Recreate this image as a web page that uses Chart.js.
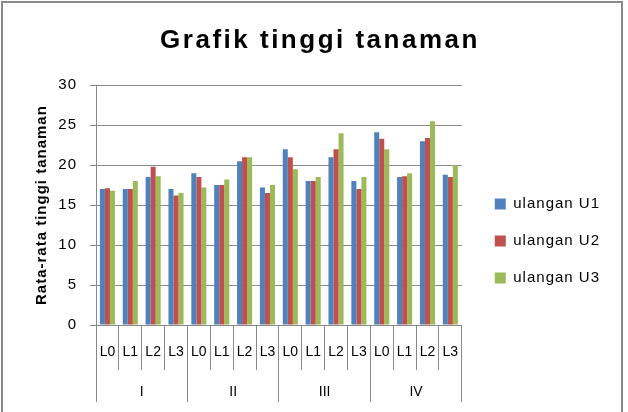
<!DOCTYPE html>
<html>
<head>
<meta charset="utf-8">
<script src="https://cdn.jsdelivr.net/npm/chart.js@4.4.1/dist/chart.umd.min.js"></script>
<style>
    html, body { margin: 0; padding: 0; background: #fff; overflow: hidden; }
    #wrap { position: relative; width: 628px; height: 412px; }
    #frame {
        position: absolute; left: 1px; top: 1px; width: 622px; height: 430px;
        box-sizing: border-box; border: 2px solid #898989; pointer-events: none;
    }
</style>
</head>
<body>
<div id="wrap">
    <canvas id="grafik" width="628" height="412"></canvas>
    <div id="frame"></div>
</div>
<script>
const levels = ["L0", "L1", "L2", "L3"];
const groups = ["I", "II", "III", "IV"];
const seriesNames = ["ulangan U1", "ulangan U2", "ulangan U3"];
const seriesColors = ["#4F81BD", "#C0504D", "#9BBB59"];

// nilai per kategori: I(L0..L3), II(L0..L3), III(L0..L3), IV(L0..L3)
const ulanganU1 = [17.0, 17.0, 18.5, 17.0, 19.0, 17.5, 20.5, 17.2, 22.0, 18.0, 21.0, 18.0, 24.1, 18.5, 23.0, 18.8];
const ulanganU2 = [17.1, 17.0, 19.8, 16.2, 18.5, 17.5, 21.0, 16.5, 21.0, 18.0, 22.0, 17.0, 23.3, 18.6, 23.4, 18.5];
const ulanganU3 = [16.8, 18.0, 18.6, 16.5, 17.2, 18.2, 21.0, 17.5, 19.5, 18.5, 24.0, 18.5, 22.0, 19.0, 25.5, 20.0];

const yMin = 0, yMax = 30, yStep = 5;

const gray = "#898989";
const ctxGrafik = document.getElementById("grafik").getContext("2d");

Chart.defaults.font.family = '"Liberation Sans", Arial, sans-serif';
Chart.defaults.color = "#000";

// letter spacing per bagian (judul, legenda, sumbu y)
function spaced(item, px, dx = 0, dy = 0) {
    if (!item || item._spaced) return;
    const draw = item.draw.bind(item);
    const fit = item.fit ? item.fit.bind(item) : null;
    item.draw = function (area) {
        const c = this.ctx;
        c.save();
        c.letterSpacing = px;
        c.translate(dx, dy);
        draw(area);
        c.restore();
    };
    if (fit) {
        item.fit = function () {
            const c = this.ctx;
            c.save();
            c.letterSpacing = px;
            fit();
            c.restore();
            this.width += dx;
        };
    }
    item._spaced = true;
}
const spacing = {
    id: "spacing",
    beforeLayout(chart) {
        spaced(chart.titleBlock, "2.5px");
        spaced(chart.legend, "1px", 11, 38);
        spaced(chart.scales.y, "1px");
    },
};

const labels = groups.flatMap(() => levels);
const values = [ulanganU1, ulanganU2, ulanganU3];

const data = {
    labels: labels,
    datasets: seriesNames.map((name, i) => ({
        label: name,
        data: values[i],
        backgroundColor: seriesColors[i],
        borderWidth: 0,
        categoryPercentage: 0.66,
        barPercentage: 1.0,
    })),
};

const options = {
    responsive: false,
    animation: false,
    layout: { padding: { top: 4, left: 30, right: 18, bottom: 10 } },
    plugins: {
        title: {
            display: true,
            text: "Grafik tinggi tanaman",
            font: { size: 26, weight: "bold" },
            padding: { top: 21, bottom: 29 },
        },
        legend: {
            position: "right",
            labels: { boxWidth: 11, boxHeight: 11, padding: 22, font: { size: 15 } },
        },
        tooltip: { enabled: false },
    },
    scales: {
        x: {
            weight: 0,
            offset: true,
            grid: { offset: true, drawOnChartArea: false, tickLength: 45, color: gray },
            border: { color: gray },
            ticks: { autoSkip: false, maxRotation: 0, padding: -26, font: { size: 14 } },
            afterFit: (s) => { s.height = 36; },
        },
        x2: {
            type: "category",
            labels: groups,
            position: "bottom",
            weight: 1,
            offset: true,
            grid: { offset: true, drawOnChartArea: false, tickLength: 41, color: gray },
            border: { display: false },
            ticks: { maxRotation: 0, padding: -18, font: { size: 14 } },
            afterFit: (s) => { s.height = 41; },
        },
        y: {
            min: yMin,
            max: yMax,
            ticks: { stepSize: yStep, padding: 13, font: { size: 15 } },
            grid: { color: gray, tickLength: 6 },
            border: { color: gray },
            title: {
                display: true,
                text: "Rata-rata tinggi tanaman",
                font: { size: 15, weight: "bold" },
                padding: { top: 3, bottom: 0 },
            },
            afterFit: (s) => { s.width = 66; },
        },
    },
};

const myChart = new Chart(ctxGrafik, {
    type: "bar",
    data: data,
    options: options,
    plugins: [spacing],
});
</script>
</body>
</html>
